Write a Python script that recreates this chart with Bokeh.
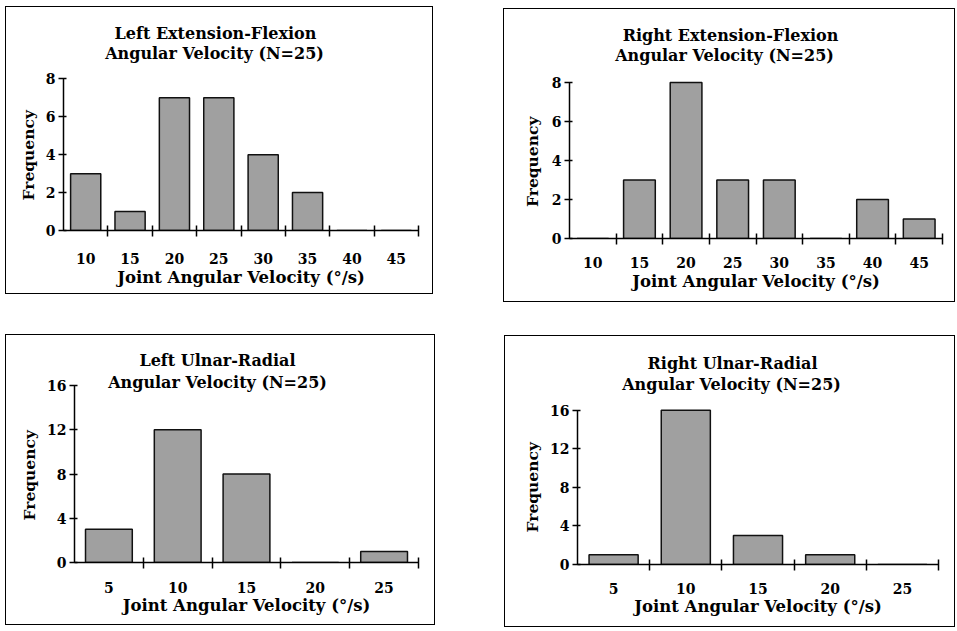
from bokeh.plotting import figure
from bokeh.layouts import column, row
from bokeh.models import FixedTicker, Range1d, Label, Title
from bokeh.embed import file_html
from bokeh.resources import INLINE

# ---- data ----
ef_bins = [10, 15, 20, 25, 30, 35, 40, 45]
left_ef = [3, 1, 7, 7, 4, 2, 0, 0]
right_ef = [0, 3, 8, 3, 3, 0, 2, 1]
ur_bins = [5, 10, 15, 20, 25]
left_ur = [3, 12, 8, 0, 1]
right_ur = [1, 16, 3, 1, 0]

ef_yticks = [0, 2, 4, 6, 8]
ur_yticks = [0, 4, 8, 12, 16]

titles = [
    ["Left Extension-Flexion", "Angular Velocity (N=25)"],
    ["Right Extension-Flexion", "Angular Velocity (N=25)"],
    ["Left Ulnar-Radial", "Angular Velocity (N=25)"],
    ["Right Ulnar-Radial", "Angular Velocity (N=25)"],
]
x_title = "Joint Angular Velocity (°/s)"
y_title = "Frequency"

FONT = "DejaVu Serif"
BIN_W = 5
TOP_PAD = 4      # px between panel top and plotting frame top
YLAB_LEN = 93    # approx rendered length of the y title, px


def panel(title_lines, title_px, bins, counts, yticks, box, frame, lab_standoff, title_standoff,
          ylab_standoff):
    """box = (x0, y0, w, h) page pixels; frame = (left, right, bottom, top-tick) page pixels."""
    x0, y0, w, h = box
    fl, fr, fb, ft = frame
    lo = bins[0] - BIN_W / 2
    hi = bins[-1] + BIN_W / 2
    frame_top = y0 + TOP_PAD
    ymax = yticks[-1] * (fb - frame_top) / (fb - ft)
    p = figure(width=w, height=h, output_backend="svg", toolbar_location=None,
               x_range=Range1d(lo, hi), y_range=Range1d(yticks[0], ymax),
               min_border_left=fl - x0, min_border_right=x0 + w - fr,
               min_border_top=TOP_PAD, min_border_bottom=y0 + h - fb,
               styles={"outline": "1.5px solid black"})
    p.outline_line_color = None
    p.background_fill_color = "white"
    p.border_fill_color = "white"
    p.xgrid.visible = False
    p.ygrid.visible = False

    p.vbar(x=bins, top=counts, width=BIN_W * 0.68, bottom=0,
           fill_color="#a0a0a0", line_color="#111111", line_width=1.5)

    for txt, (cx, cy) in zip(title_lines, title_px):
        tx = lo + (cx - fl) / (fr - fl) * (hi - lo)
        ty = yticks[-1] * (fb - cy) / (fb - ft)
        p.add_layout(Label(x=tx, y=ty, text=txt,
                           text_align="center", text_baseline="middle",
                           text_font=FONT, text_font_style="bold", text_font_size="16px",
                           text_color="black"))

    boundaries = [b + BIN_W / 2 for b in bins]
    xa = p.xaxis[0]
    xa.ticker = FixedTicker(ticks=bins, minor_ticks=boundaries)
    xa.major_tick_in = 0
    xa.major_tick_out = 0
    xa.minor_tick_in = 5
    xa.minor_tick_out = 6
    xa.minor_tick_line_color = "black"
    xa.minor_tick_line_width = 1.5
    xa.axis_line_width = 1.5
    xa.axis_line_color = "black"
    xa.major_label_standoff = lab_standoff
    xa.major_label_text_font = FONT
    xa.major_label_text_font_style = "bold"
    xa.major_label_text_font_size = "14px"
    xa.major_label_text_color = "black"
    xa.axis_label = x_title
    xa.axis_label_text_font = FONT
    xa.axis_label_text_font_style = "bold"
    xa.axis_label_text_font_size = "16.5px"
    xa.axis_label_text_color = "black"
    xa.axis_label_standoff = title_standoff

    ya = p.yaxis[0]
    ya.ticker = FixedTicker(ticks=yticks, minor_ticks=[])
    ya.bounds = (yticks[0], yticks[-1])
    ya.major_tick_in = 3
    ya.major_tick_out = 5
    ya.major_tick_line_width = 1.5
    ya.major_tick_line_color = "black"
    ya.axis_line_width = 1.5
    ya.axis_line_color = "black"
    ya.major_label_standoff = 3
    ya.major_label_text_font = FONT
    ya.major_label_text_font_style = "bold"
    ya.major_label_text_font_size = "14px"
    ya.major_label_text_color = "black"

    # y title centred on the 0..max part of the axis
    ylab = Title(text=y_title, align="left", offset=(fb - ft) / 2 - YLAB_LEN / 2,
                 standoff=ylab_standoff, text_font=FONT, text_font_style="bold",
                 text_font_size="15.5px", text_color="black")
    p.add_layout(ylab, "left")
    return p


boxes = [(6, 7, 426, 286), (504, 9, 450, 292), (6, 335, 428, 289), (505, 336, 449, 290)]
frames = [(63, 418, 232, 79), (569, 942, 238, 82), (74, 418, 562, 385), (577, 938, 568, 411)]
title_px = [[(215, 33), (214, 53)], [(730, 35), (724, 55)],
            [(217, 360), (217, 382)], [(732, 363), (731, 385)]]

p1 = panel(titles[0], title_px[0], ef_bins, left_ef, ef_yticks, boxes[0], frames[0], 16, 1, 10)
p2 = panel(titles[1], title_px[1], ef_bins, right_ef, ef_yticks, boxes[1], frames[1], 12, 1, 14)
p3 = panel(titles[2], title_px[2], ur_bins, left_ur, ur_yticks, boxes[2], frames[2], 13, 0, 12)
p4 = panel(titles[3], title_px[3], ur_bins, right_ur, ur_yticks, boxes[3], frames[3], 12, 0, 12)

# place panels with margins
p1.margin = (boxes[0][1], 0, 0, boxes[0][0])
p2.margin = (boxes[1][1], 0, 0, boxes[1][0] - (boxes[0][0] + boxes[0][2]))
row1_h = max(boxes[0][1] + boxes[0][3], boxes[1][1] + boxes[1][3])
p3.margin = (boxes[2][1] - row1_h, 0, 0, boxes[2][0])
p4.margin = (boxes[3][1] - row1_h, 0, 0, boxes[3][0] - (boxes[2][0] + boxes[2][2]))

layout = column(row(p1, p2), row(p3, p4))
open("out.html", "w").write(file_html(layout, INLINE))
